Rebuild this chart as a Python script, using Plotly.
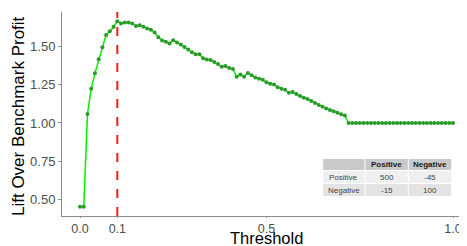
import plotly.graph_objects as go

threshold = [0.00, 0.01, 0.02, 0.03, 0.04, 0.05, 0.06, 0.07, 0.08, 0.09,
             0.10, 0.11, 0.12, 0.13, 0.14, 0.15, 0.16, 0.17, 0.18, 0.19,
             0.20, 0.21, 0.22, 0.23, 0.24, 0.25, 0.26, 0.27, 0.28, 0.29,
             0.30, 0.31, 0.32, 0.33, 0.34, 0.35, 0.36, 0.37, 0.38, 0.39,
             0.40, 0.41, 0.42, 0.43, 0.44, 0.45, 0.46, 0.47, 0.48, 0.49,
             0.50, 0.51, 0.52, 0.53, 0.54, 0.55, 0.56, 0.57, 0.58, 0.59,
             0.60, 0.61, 0.62, 0.63, 0.64, 0.65, 0.66, 0.67, 0.68, 0.69,
             0.70, 0.71, 0.72, 0.73, 0.74, 0.75, 0.76, 0.77, 0.78, 0.79,
             0.80, 0.81, 0.82, 0.83, 0.84, 0.85, 0.86, 0.87, 0.88, 0.89,
             0.90, 0.91, 0.92, 0.93, 0.94, 0.95, 0.96, 0.97, 0.98, 0.99,
             1.00]

lift = [0.455, 0.455, 1.059, 1.222, 1.323, 1.414, 1.492, 1.573, 1.596, 1.626,
        1.662, 1.648, 1.654, 1.654, 1.648, 1.631, 1.635, 1.626, 1.615, 1.607,
        1.588, 1.558, 1.537, 1.528, 1.517, 1.539, 1.524, 1.511, 1.494, 1.478,
        1.460, 1.447, 1.447, 1.421, 1.413, 1.409, 1.396, 1.383, 1.366, 1.370,
        1.357, 1.351, 1.300, 1.315, 1.301, 1.326, 1.311, 1.296, 1.288, 1.282,
        1.265, 1.256, 1.250, 1.233, 1.222, 1.216, 1.196, 1.201, 1.188, 1.175,
        1.164, 1.156, 1.143, 1.130, 1.117, 1.106, 1.095, 1.085, 1.076, 1.066,
        1.057, 1.048, 1.000, 1.000, 1.000, 1.000, 1.000, 1.000, 1.000, 1.000,
        1.000, 1.000, 1.000, 1.000, 1.000, 1.000, 1.000, 1.000, 1.000, 1.000,
        1.000, 1.000, 1.000, 1.000, 1.000, 1.000, 1.000, 1.000, 1.000, 1.000,
        1.000]

best_threshold = 0.1

x_ticks = [0.0, 0.1, 0.5, 1.0]
x_ticktext = ["0.0", "0.1", "0.5", "1.0"]
y_ticks = [0.50, 0.75, 1.00, 1.25, 1.50]
y_ticktext = ["0.50", "0.75", "1.00", "1.25", "1.50"]

table_header = ["", "Positive", "Negative"]
table_rows = ["Positive", "Negative"]
table_pos = ["500", "-15"]
table_neg = ["-45", "100"]

FONT = "Liberation Sans, Arial, sans-serif"

# the page body adds an 8px offset; lay the figure out in window pixels minus it
OFF = 8
W, H = 467 - OFF, 246 - OFF
ML, MR, MT, MB = 62 - OFF, 0, 12 - OFF, 246 - 216
PW, PH = W - ML - MR, H - MT - MB


def px_x(p):
    return (p - OFF - ML) / PW


def px_y(p):
    return (H - MB - (p - OFF)) / PH


fig = go.Figure()

fig.add_trace(go.Scatter(
    x=threshold, y=lift, mode="lines+markers",
    line=dict(color="#00ee00", width=1.5),
    marker=dict(color="#2a9a2a", size=4, line=dict(width=0)),
    showlegend=False, cliponaxis=False,
))

fig.add_shape(type="line", x0=best_threshold, x1=best_threshold, xref="x",
              y0=0, y1=1, yref="paper",
              line=dict(color="#ff1a1a", width=2, dash="dash"))

# table drawn as cells (window pixel layout)
col_edges = [322.7, 365.0, 408.3, 451.7]
row_edges = [(159, 170), (171, 183), (184, 196)]
row_fills = ["#c9c9c9", "#efefef", "#e3e3e3"]
table_cols = [[table_header[0]] + table_rows,
              [table_header[1]] + table_pos,
              [table_header[2]] + table_neg]
for r, (y0, y1) in enumerate(row_edges):
    for c in range(3):
        x0, x1 = col_edges[c], col_edges[c + 1]
        fig.add_shape(type="rect", xref="paper", yref="paper",
                      x0=px_x(x0 + 0.5), x1=px_x(x1 - 0.5),
                      y0=px_y(y1), y1=px_y(y0),
                      fillcolor=row_fills[r], line=dict(width=0), layer="below")
        txt = table_cols[c][r]
        if txt:
            if r == 0:
                txt = "<b>%s</b>" % txt
            fig.add_annotation(xref="paper", yref="paper",
                               x=px_x((x0 + x1) / 2), y=px_y((y0 + y1) / 2),
                               text=txt, showarrow=False,
                               font=dict(family=FONT, size=8,
                                         color="#1a1a1a" if r == 0 else "#444"),
                               xanchor="center", yanchor="middle")

# axis titles
fig.add_annotation(xref="paper", yref="paper", x=px_x(266), y=px_y(238),
                   text="Threshold", showarrow=False,
                   font=dict(family=FONT, size=16.5, color="black"),
                   xanchor="center", yanchor="middle")
fig.add_annotation(xref="paper", yref="paper", x=px_x(18), y=px_y(116),
                   text="Lift Over Benchmark Profit", showarrow=False, textangle=-90,
                   font=dict(family=FONT, size=17, color="black"),
                   xanchor="center", yanchor="middle")

fig.update_layout(
    width=W, height=H,
    margin=dict(l=ML, r=MR, t=MT, b=MB),
    plot_bgcolor="white", paper_bgcolor="white",
    font=dict(family=FONT),
    xaxis=dict(range=[-0.0483, 1.0375], tickvals=x_ticks, ticktext=x_ticktext,
               showgrid=False, zeroline=False, showline=True, automargin=False,
               linecolor="#8a8a8a", linewidth=1,
               ticks="outside", ticklen=1, tickcolor="#8a8a8a",
               tickfont=dict(size=12.5, color="#4d4d4d")),
    yaxis=dict(range=[0.395, 1.722], tickvals=y_ticks, ticktext=y_ticktext,
               showgrid=False, zeroline=False, showline=True, automargin=False,
               linecolor="#8a8a8a", linewidth=1,
               ticks="outside", ticklen=3, tickcolor="#8a8a8a",
               tickfont=dict(size=13, color="#4d4d4d")),
)

fig.write_html("out.html")
